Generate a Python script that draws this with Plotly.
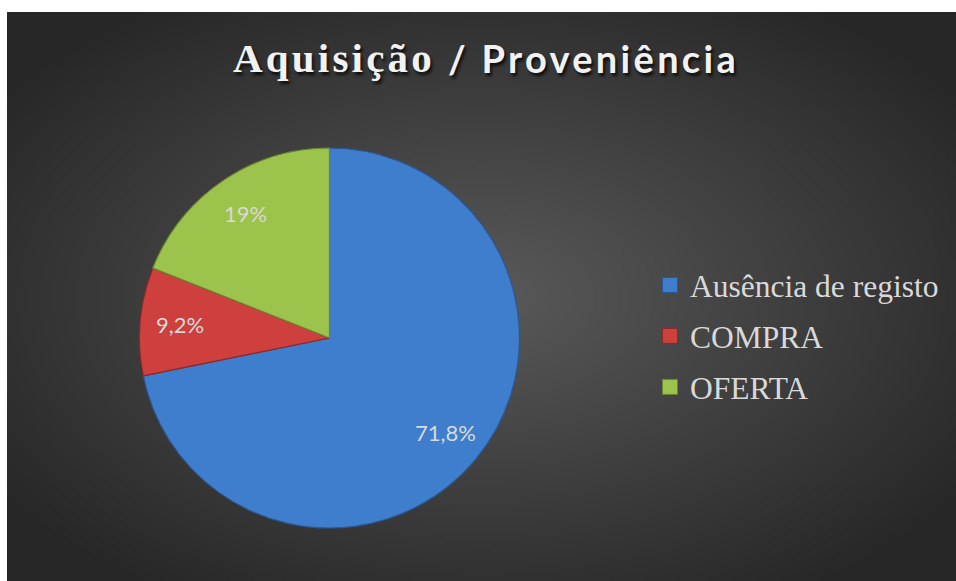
import base64, struct, zlib, math
import numpy as np
import plotly.graph_objects as go

# ---------------- data ----------------
labels = ["Ausência de registo", "COMPRA", "OFERTA"]
values = [71.8, 9.2, 19.0]
value_text = ["71,8%", "9,2%", "19%"]
title_parts = ["Aquisição", "/ Proveniência"]
slice_colors = ["#3f7ecd", "#cd403d", "#9cc34b"]
slice_edges = ["#2b5894", "#8a2926", "#6a8731"]

# ---------------- layout geometry (style) ----------------
W, H = 956, 581
M_L, M_T = 7, 12
PLOT_W, PLOT_H = W - M_L, H - M_T
DOM_X = [0.1396, 0.540]
DOM_Y = [0.0931, 0.761]
LABEL_R = 0.79  # label distance as fraction of radius


def px_x(px):
    return (px - M_L) / PLOT_W


def px_y(py):
    return (H - py) / PLOT_H


def gradient_png(w=240, h=144, c_in=(0x5a, 0x5a, 0x5a), c_out=(0x27, 0x27, 0x27)):
    ys, xs = np.mgrid[0:h, 0:w]
    dx = ((xs + 0.5) / w - 0.5) / 0.5
    dy = ((ys + 0.5) / h - 0.5) / 0.5
    d = np.clip(np.sqrt(dx * dx + dy * dy) / 1.25, 0, 1)
    img = np.zeros((h, w, 3), dtype=np.uint8)
    for k in range(3):
        img[..., k] = (c_in[k] + (c_out[k] - c_in[k]) * d).astype(np.uint8)
    raw = b"".join(b"\x00" + img[r].tobytes() for r in range(h))

    def chunk(t, data):
        c = struct.pack(">I", len(data)) + t + data
        return c + struct.pack(">I", zlib.crc32(t + data) & 0xffffffff)
    png = b"\x89PNG\r\n\x1a\n" + chunk(b"IHDR", struct.pack(">IIBBBBB", w, h, 8, 2, 0, 0, 0)) \
        + chunk(b"IDAT", zlib.compress(raw, 9)) + chunk(b"IEND", b"")
    return "data:image/png;base64," + base64.b64encode(png).decode()


fig = go.Figure()

fig.add_trace(go.Pie(
    labels=labels,
    values=values,
    textinfo="none",
    sort=False,
    direction="clockwise",
    rotation=0,
    marker=dict(colors=slice_colors, line=dict(color=slice_edges, width=1.2)),
    domain=dict(x=DOM_X, y=DOM_Y),
    hoverinfo="label+percent",
    showlegend=False,
))

# legend entries (one per slice, so group gaps can space them like the original)
for lab, col, edge in zip(labels, slice_colors, slice_edges):
    fig.add_trace(go.Scatter(
        x=[None], y=[None], mode="markers", name=lab, legendgroup=lab,
        marker=dict(symbol="square", size=15, color=col, line=dict(color=edge, width=1)),
        showlegend=True, hoverinfo="skip",
    ))

# value labels placed at the middle angle of each slice
cx_px = (DOM_X[0] + DOM_X[1]) / 2 * PLOT_W
cy_px = (DOM_Y[0] + DOM_Y[1]) / 2 * PLOT_H
R_px = min((DOM_X[1] - DOM_X[0]) * PLOT_W, (DOM_Y[1] - DOM_Y[0]) * PLOT_H) / 2
total = sum(values)
cum = 0.0
annotations = []
for v, t in zip(values, value_text):
    ang = math.radians((cum + v / 2) / total * 360.0)
    cum += v
    px = cx_px + LABEL_R * R_px * math.sin(ang)
    py = cy_px + LABEL_R * R_px * math.cos(ang)
    annotations.append(dict(
        text=t, x=px / PLOT_W, y=py / PLOT_H, xref="paper", yref="paper",
        showarrow=False, xanchor="center", yanchor="middle",
        font=dict(family="Lato", size=22, color="#d9d9d9"),
    ))

# title, in two typefaces like the original
title_shadow = "2px 3px 3px rgba(0,0,0,0.75)"
annotations.append(dict(
    text='<span style="letter-spacing:3.2px">' + title_parts[0] + "</span>",
    x=px_x(437), y=px_y(58), xref="paper", yref="paper",
    showarrow=False, xanchor="right", yanchor="middle",
    font=dict(family="Liberation Serif", size=41, color="#f2f2f2", weight="bold",
              shadow=title_shadow),
))
annotations.append(dict(
    text='<span style="letter-spacing:3.3px">' + title_parts[1] + "</span>",
    x=px_x(446), y=px_y(58), xref="paper", yref="paper",
    showarrow=False, xanchor="left", yanchor="middle",
    font=dict(family="Lato", size=38, color="#f2f2f2", weight="bold",
              shadow=title_shadow),
))

fig.update_layout(
    width=W, height=H,
    margin=dict(l=M_L, r=0, t=M_T, b=0, pad=0),
    paper_bgcolor="white",
    plot_bgcolor="rgba(0,0,0,0)",
    xaxis=dict(visible=False, range=[0, 1], fixedrange=True),
    yaxis=dict(visible=False, range=[0, 1], fixedrange=True),
    images=[dict(source=gradient_png(), xref="paper", yref="paper", x=0, y=1,
                 sizex=1, sizey=1, sizing="stretch", xanchor="left", yanchor="top",
                 layer="below")],
    annotations=annotations,
    legend=dict(
        x=px_x(650), y=px_y(336), xanchor="left", yanchor="middle",
        font=dict(family="Liberation Serif", size=31.5, color="#d9d9d9"),
        bgcolor="rgba(0,0,0,0)",
        tracegroupgap=7,
        itemclick=False, itemdoubleclick=False,
    ),
    showlegend=True,
)

fig.write_html(
    "out.html",
    config={"displayModeBar": False},
    post_script="document.body.style.margin='0';document.body.style.overflow='hidden';",
)
